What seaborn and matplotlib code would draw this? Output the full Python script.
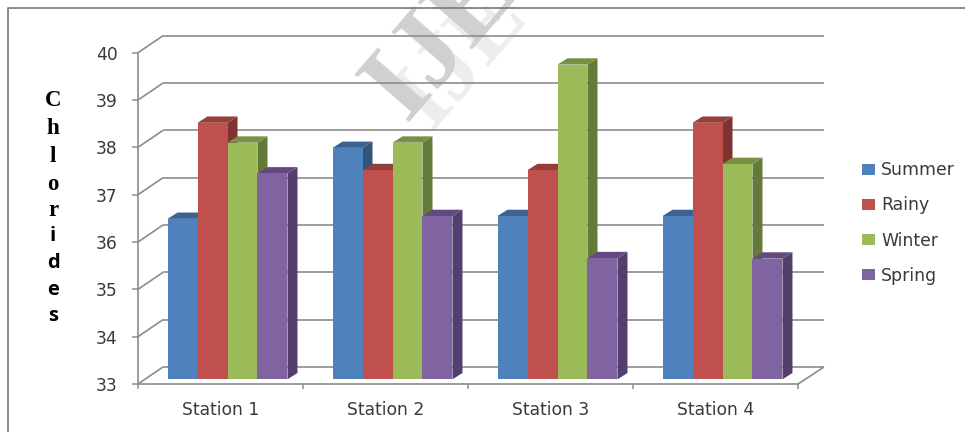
import matplotlib
matplotlib.use("Agg")
import matplotlib.pyplot as plt
import pandas as pd
import seaborn as sns
from matplotlib.collections import LineCollection
from matplotlib.patches import Polygon
from matplotlib.transforms import Affine2D, IdentityTransform

stations = ["Station 1", "Station 2", "Station 3", "Station 4"]
seasons = ["Summer", "Rainy", "Winter", "Spring"]
summer = [36.39, 37.89, 36.45, 36.45]
rainy = [38.42, 37.42, 37.42, 38.42]
winter = [38.0, 38.0, 39.65, 37.55]
spring = [37.35, 36.45, 35.56, 35.55]

front_colors = ["#4F81BD", "#C0504D", "#9BBB59", "#8064A2"]
top_colors = ["#3C6291", "#953E3B", "#769144", "#63497F"]
side_colors = ["#335479", "#7F3230", "#647A38", "#533F6D"]
GRID = "#8C8C8C"
TEXT = "#3A3A3A"

sns.set_theme(style="white")
plt.rcParams["font.family"] = ["DejaVu Sans"]

W, H = 965, 432
fig = plt.figure(figsize=(W / 100, H / 100), dpi=100, facecolor="white")
ax = fig.add_axes([138 / W, 1 - 384 / H, 660 / W, (384 - 52.7) / H])
ax.set_facecolor("none")

table = pd.DataFrame(
    {"station": stations * 4,
     "season": [s for s in seasons for _ in stations],
     "chlorides": summer + rainy + winter + spring}
)
sns.barplot(data=table, x="station", y="chlorides", hue="season",
            hue_order=seasons, palette=front_colors, saturation=1,
            width=0.727, gap=0, linewidth=0, errorbar=None, ax=ax, zorder=5)

ax.set_xlim(-0.5, 3.5)
ax.set_ylim(33, 40)
ax.set_xlabel("")
ax.set_ylabel("")

# Axis lines and ticks of the front plane
for side in ("top", "right"):
    ax.spines[side].set_visible(False)
for side in ("left", "bottom"):
    ax.spines[side].set_color(GRID)
    ax.spines[side].set_linewidth(1.2)
ax.set_yticks(range(33, 41))
ax.set_xticks([i - 0.5 for i in range(5)], minor=True)
ax.tick_params(axis="y", which="major", left=True, length=4.3, width=1.1,
               color=GRID, labelsize=12.3, labelcolor=TEXT, pad=10.5)
ax.tick_params(axis="x", which="major", bottom=False, labelsize=12.3,
               labelcolor=TEXT, pad=6)
ax.tick_params(axis="x", which="minor", bottom=True, length=3.6, width=1.1,
               color=GRID)


def to_px(x, y):
    return ax.transData.transform((x, y))


# Back wall and side wall of the pseudo-3D box
WALL_DX, WALL_DY = 25, 17
segments = []
for level in range(33, 41):
    fx, fy = to_px(-0.5, level)
    ex, ey = to_px(3.5, level)
    segments.append([(fx, fy), (fx + WALL_DX, fy + WALL_DY)])
    segments.append([(fx + WALL_DX, fy + WALL_DY), (ex + WALL_DX + 1, ey + WALL_DY)])
ex, ey = to_px(3.5, 33)
segments.append([(ex, ey), (ex + WALL_DX + 1, ey + WALL_DY)])
ax.add_collection(LineCollection(segments, colors=GRID, linewidths=1.2,
                                 transform=IdentityTransform(), clip_on=False,
                                 zorder=1))

# Extrude each bar: shifted off the front plane, with a top and a side face
SHIFT_X, SHIFT_Y = 7, 4.7
BAR_DX, BAR_DY = 10, 6.3
shift = Affine2D().translate(SHIFT_X, SHIFT_Y)
for s, container in enumerate(ax.containers):
    for patch in container.patches:
        value = patch.get_height()
        patch.set_y(33)
        patch.set_height(value - 33)
        patch.set_transform(ax.transData + shift)
        patch.set_clip_on(False)
        order = 5 + patch.get_x() * 10 + s * 0.01
        patch.set_zorder(order + 0.002)
        x0, y0 = to_px(patch.get_x(), 33)
        x1, y1 = to_px(patch.get_x() + patch.get_width(), value)
        x0, x1 = x0 + SHIFT_X, x1 + SHIFT_X
        y0, y1 = y0 + SHIFT_Y, y1 + SHIFT_Y
        side_face = [(x1, y0), (x1 + BAR_DX, y0 + BAR_DY),
                     (x1 + BAR_DX, y1 + BAR_DY), (x1, y1)]
        top_face = [(x0, y1), (x1, y1), (x1 + BAR_DX, y1 + BAR_DY),
                    (x0 + BAR_DX, y1 + BAR_DY)]
        for face, color in ((side_face, side_colors[s]), (top_face, top_colors[s])):
            ax.add_patch(Polygon(face, closed=True, facecolor=color, edgecolor="none",
                                 transform=IdentityTransform(), clip_on=False,
                                 zorder=order))

sns.move_legend(ax, "center left", bbox_to_anchor=(862 / W, 1 - 223 / H),
                bbox_transform=fig.transFigure, title=None, frameon=False,
                fontsize=12.4, handlelength=0.76, handleheight=0.59,
                handletextpad=0.36, labelspacing=1.0, borderpad=0,
                borderaxespad=0, labelcolor=TEXT)

# Vertical axis title, one letter per row
title_rows = [("C", 100, "serif"), ("h", 128, "serif"), ("l", 156, "serif"),
              ("o", 184, "serif"), ("r", 210, "serif"), ("i", 236, "sans"),
              ("d", 263, "sans"), ("e", 290, "sans"), ("s", 316, "sans")]
for letter, row, kind in title_rows:
    family = "Liberation Serif" if kind == "serif" else "Open Sans"
    size = 16.5 if kind == "serif" else 14.5
    fig.text(53 / W, 1 - row / H, letter, family=family, fontsize=size,
             fontweight="bold", color="black", ha="center", va="center")

# Picture frame, open on the right and at the bottom
fig.add_artist(plt.Line2D([8 / W, 8 / W, 1], [0, 1 - 8 / H, 1 - 8 / H],
                          color="#808080", linewidth=1.3))

# Diagonal watermark behind the plot
fig.text(430 / W, 1 - 130 / H, "IJE", family="Liberation Serif", fontsize=70,
         fontweight="bold", color="#EDEDED", rotation=49, rotation_mode="anchor",
         ha="left", va="baseline", zorder=-2)
fig.text(405 / W, 1 - 122 / H, "IJE", family="Liberation Serif", fontsize=80,
         fontweight="bold", color="#D0D0D0", rotation=49, rotation_mode="anchor",
         ha="left", va="baseline", zorder=-1)

fig.savefig("out.png", dpi=100, facecolor="white")
